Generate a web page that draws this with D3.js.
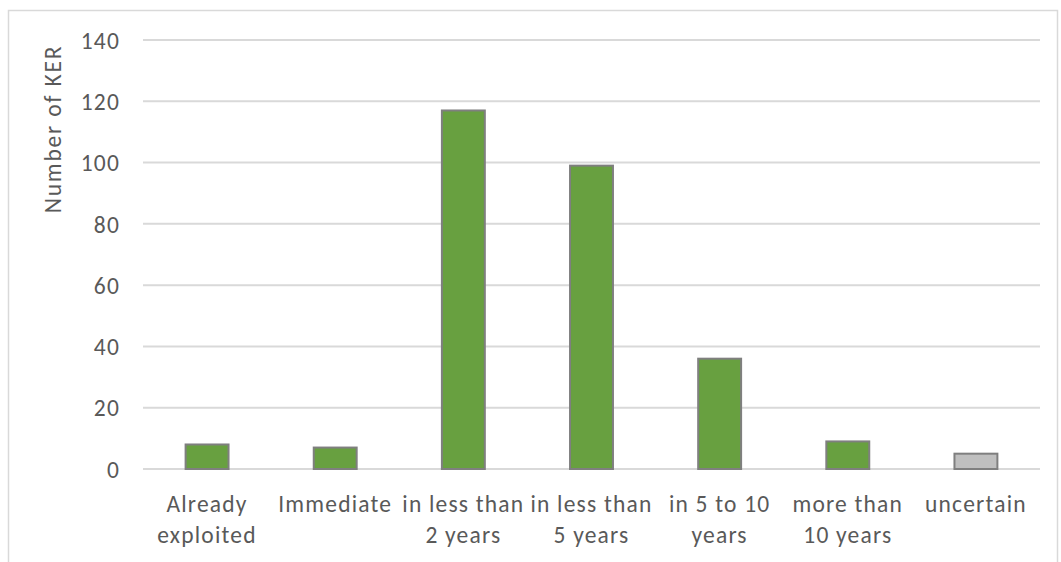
<!DOCTYPE html>
<html><head><meta charset="utf-8">
<script src="https://cdn.jsdelivr.net/npm/d3@7"></script>
<style>body{margin:0;background:#fff;} text{font-family:Carlito, Lato, sans-serif;}</style>
</head><body>
<svg id="chart" width="1061" height="562"></svg>
<script>
const categories = [["Already","exploited"],["Immediate"],["in less than","2 years"],["in less than","5 years"],["in 5 to 10","years"],["more than","10 years"],["uncertain"]];
const values = [8, 7, 117, 99, 36, 9, 5];
const fills = ["#68a040","#68a040","#68a040","#68a040","#68a040","#68a040","#bfbfbf"];
const yTicks = [0,20,40,60,80,100,120,140];
const yTitle = "Number of KER";

(function(){
const svg = d3.select("#chart");
svg.append("rect").attr("x",8.5).attr("y",10.5).attr("width",1049).attr("height",560)
  .attr("fill","#fff").attr("stroke","#d9d9d9").attr("stroke-width",1.5);

const pL=143, pR=1040, pT=40, pB=469;
const fs = "23.5px", ls = "1.2px";
const x = d3.scaleBand().domain(d3.range(categories.length)).range([pL,pR]).paddingInner(0.665).paddingOuter(0.3325);
const y = d3.scaleLinear().domain([0,140]).range([pB,pT]);

svg.append("g").selectAll("line").data(yTicks).join("line")
  .attr("x1",pL).attr("x2",pR).attr("y1",d=>y(d)).attr("y2",d=>y(d))
  .attr("stroke","#d9d9d9").attr("stroke-width",2);

const yAxis = svg.append("g").attr("transform",`translate(${pL-23},0)`)
  .call(d3.axisLeft(y).tickValues(yTicks).tickSize(0).tickPadding(0));
yAxis.select(".domain").remove();
yAxis.selectAll("text").attr("fill","#595959").style("font-size",fs).style("letter-spacing",ls).attr("dy","0.35em");

svg.append("g").selectAll("rect").data(values).join("rect")
  .attr("x",(d,i)=>x(i)).attr("width",x.bandwidth())
  .attr("y",d=>y(d)).attr("height",d=>y(0)-y(d))
  .attr("fill",(d,i)=>fills[i]).attr("stroke","#7f7f7f").attr("stroke-width",2);

const labels = svg.append("g").selectAll("text").data(categories).join("text")
  .attr("x",(d,i)=>x(i)+x.bandwidth()/2).attr("y",512)
  .attr("text-anchor","middle").attr("fill","#595959").style("font-size",fs).style("letter-spacing",ls);
labels.selectAll("tspan").data(d=>d).join("tspan")
  .attr("x",function(){return this.parentNode.getAttribute("x");})
  .attr("dy",(d,i)=>i===0?0:31).text(d=>d);

svg.append("text").attr("transform","translate(61,129) rotate(-90)")
  .attr("text-anchor","middle").attr("fill","#595959").style("font-size",fs).style("letter-spacing","1.8px").text(yTitle);
})();
</script>
</body></html>
